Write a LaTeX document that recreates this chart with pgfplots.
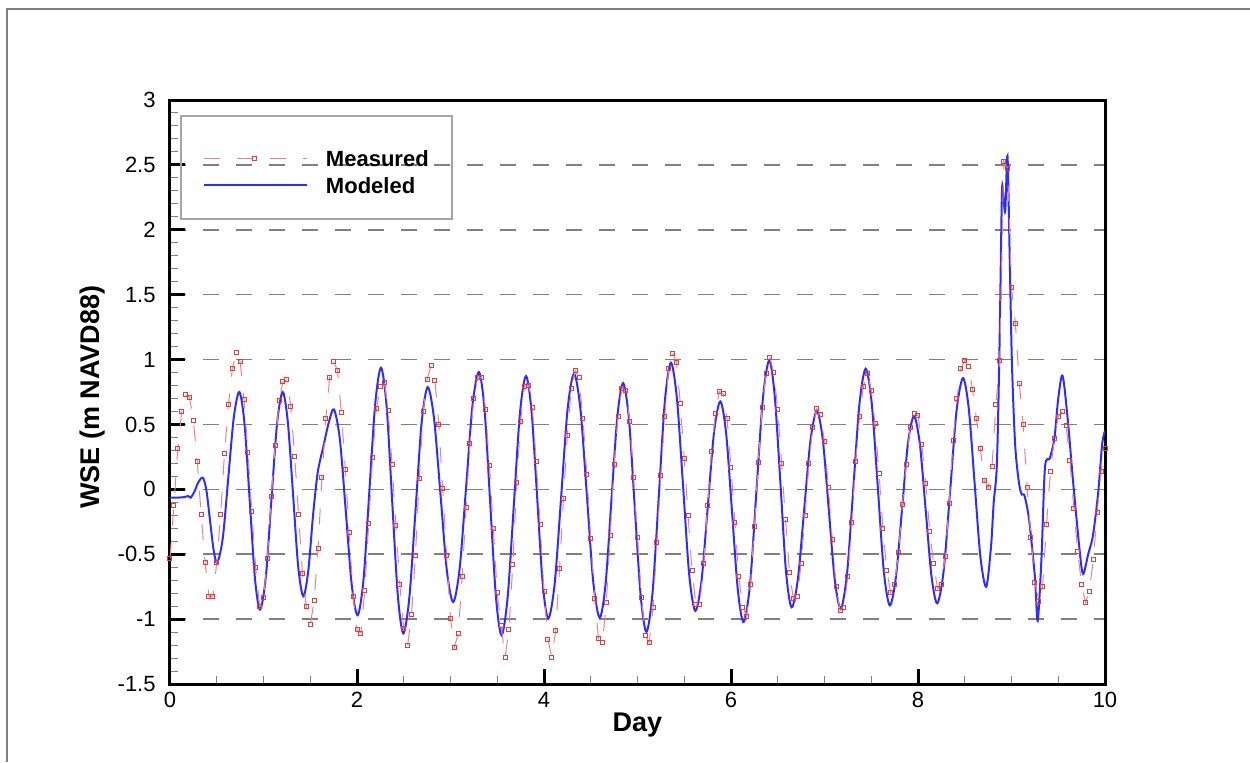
\documentclass[border=0pt]{standalone}
\usepackage{fontspec}
\setmainfont{Liberation Sans}
\usepackage{pgfplots}
\usepackage{pgfplotstable}
\pgfplotsset{compat=1.18}

\definecolor{measline}{RGB}{238,130,130}
\definecolor{measmark}{RGB}{228,60,60}
\definecolor{modblue}{RGB}{45,45,255}
\definecolor{framegray}{RGB}{128,128,128}
\definecolor{legendgray}{RGB}{165,165,165}

% legend sample for the gauge series: dashed line with one square in the middle
\pgfplotsset{
  measured legend/.style={
    legend image code/.code={
      \draw[measline, line width=0.5pt, dash pattern=on 8pt off 8.5pt] (0pt,0pt) -- (51.5pt,0pt);
      \draw[##1] plot coordinates {(25.5pt,0pt)};
    }
  }
}

% Hourly water surface elevation at the gauge (hour since start, m NAVD88)
\pgfplotstableread{
h wse
0 -0.534
1 -0.123
2 0.313
3 0.603
4 0.729
5 0.711
6 0.532
7 0.216
8 -0.195
9 -0.560
10 -0.824
11 -0.824
12 -0.565
13 -0.193
14 0.280
15 0.652
16 0.930
17 1.055
18 0.986
19 0.693
20 0.285
21 -0.169
22 -0.603
23 -0.899
24 -0.837
25 -0.534
26 -0.054
27 0.334
28 0.681
29 0.832
30 0.845
31 0.639
32 0.254
33 -0.193
34 -0.650
35 -0.901
36 -1.043
37 -0.860
38 -0.452
39 0.090
40 0.544
41 0.865
42 0.986
43 0.917
44 0.593
45 0.154
46 -0.334
47 -0.822
48 -1.081
49 -1.107
50 -0.778
51 -0.265
52 0.244
53 0.621
54 0.794
55 0.827
56 0.609
57 0.190
58 -0.277
59 -0.734
60 -1.073
61 -1.202
62 -0.966
63 -0.508
64 0.087
65 0.603
66 0.847
67 0.953
68 0.840
69 0.501
70 0.005
71 -0.508
72 -0.996
73 -1.215
74 -1.112
75 -0.668
76 -0.141
77 0.357
78 0.698
79 0.865
80 0.860
81 0.616
82 0.185
83 -0.303
84 -0.796
85 -1.050
86 -1.297
87 -1.079
88 -0.580
89 0.056
90 0.519
91 0.794
92 0.801
93 0.634
94 0.216
95 -0.270
96 -0.791
97 -1.158
98 -1.292
99 -1.086
100 -0.611
101 -0.072
102 0.413
103 0.776
104 0.917
105 0.858
106 0.544
107 0.116
108 -0.380
109 -0.842
110 -1.150
111 -1.181
112 -0.873
113 -0.354
114 0.190
115 0.565
116 0.776
117 0.758
118 0.526
119 0.095
120 -0.372
121 -0.835
122 -1.125
123 -1.181
124 -0.914
125 -0.406
126 0.108
127 0.565
128 0.930
129 1.050
130 0.981
131 0.660
132 0.241
133 -0.205
134 -0.629
135 -0.886
136 -0.886
137 -0.573
138 -0.128
139 0.295
140 0.583
141 0.755
142 0.737
143 0.544
144 0.167
145 -0.252
146 -0.675
147 -0.907
148 -0.978
149 -0.732
150 -0.290
151 0.205
152 0.634
153 0.896
154 1.014
155 0.899
156 0.616
157 0.198
158 -0.234
159 -0.637
160 -0.842
161 -0.829
162 -0.573
163 -0.200
164 0.198
165 0.480
166 0.621
167 0.578
168 0.365
169 0.018
170 -0.388
171 -0.752
172 -0.935
173 -0.912
174 -0.670
175 -0.259
176 0.211
177 0.562
178 0.794
179 0.896
180 0.763
181 0.506
182 0.121
183 -0.303
184 -0.629
185 -0.796
186 -0.734
187 -0.483
188 -0.116
189 0.190
190 0.480
191 0.583
192 0.570
193 0.344
194 0.044
195 -0.321
196 -0.573
197 -0.761
198 -0.734
199 -0.514
200 -0.110
201 0.378
202 0.699
203 0.930
204 0.994
205 0.950
206 0.767
207 0.543
208 0.316
209 0.071
210 0.012
211 0.177
212 0.655
213 0.994
214 2.528
215 2.475
216 1.555
217 1.280
218 0.817
219 0.499
220 0.015
221 -0.372
222 -0.717
223 -0.864
224 -0.746
225 -0.268
226 0.139
227 0.392
228 0.563
229 0.596
230 0.493
231 0.221
232 -0.150
233 -0.481
234 -0.737
235 -0.870
236 -0.785
237 -0.540
238 -0.177
239 0.139
240 0.316
}\measured

% Simulated water surface elevation (day, m NAVD88)
\pgfplotstableread{
day wse
0 -0.064
0.05 -0.064
0.10 -0.063
0.15 -0.060
0.196 -0.052
0.221 -0.064
0.26 -0.020
0.30 0.050
0.35 0.090
0.389 -0.006
0.428 -0.238
0.467 -0.469
0.506 -0.565
0.565 -0.373
0.624 0.093
0.683 0.558
0.742 0.750
0.797 0.505
0.853 -0.089
0.908 -0.682
0.963 -0.927
1.024 -0.682
1.084 -0.089
1.145 0.505
1.205 0.750
1.260 0.520
1.316 -0.037
1.371 -0.594
1.426 -0.824
1.48 -0.62
1.53 -0.20
1.58 0.13
1.64 0.33
1.70 0.52
1.754 0.616
1.817 0.384
1.881 -0.177
1.944 -0.738
2.007 -0.970
2.070 -0.692
2.132 -0.017
2.195 0.659
2.257 0.937
2.317 0.638
2.376 -0.087
2.436 -0.811
2.495 -1.110
2.560 -0.833
2.626 -0.161
2.691 0.511
2.756 0.788
2.824 0.546
2.893 -0.040
2.961 -0.626
3.029 -0.868
3.098 -0.609
3.167 0.018
3.235 0.645
3.304 0.904
3.365 0.608
3.425 -0.111
3.486 -0.829
3.546 -1.125
3.611 -0.833
3.677 -0.126
3.742 0.581
3.807 0.873
3.867 0.600
3.927 -0.062
3.986 -0.723
4.046 -0.996
4.115 -0.720
4.184 -0.053
4.252 0.615
4.321 0.891
4.390 0.616
4.459 -0.049
4.527 -0.715
4.596 -0.989
4.659 -0.725
4.721 -0.085
4.784 0.555
4.846 0.819
4.909 0.539
4.971 -0.140
5.034 -0.819
5.096 -1.099
5.161 -0.796
5.227 -0.062
5.292 0.673
5.357 0.976
5.422 0.697
5.488 0.020
5.553 -0.658
5.618 -0.937
5.685 -0.701
5.752 -0.130
5.819 0.442
5.886 0.678
5.948 0.430
6.011 -0.172
6.073 -0.774
6.135 -1.022
6.204 -0.728
6.272 -0.014
6.341 0.700
6.409 0.994
6.468 0.716
6.529 0.043
6.588 -0.631
6.648 -0.909
6.716 -0.688
6.783 -0.153
6.851 0.382
6.918 0.603
6.982 0.381
7.046 -0.158
7.110 -0.697
7.174 -0.919
7.241 -0.649
7.308 0.006
7.374 0.660
7.441 0.930
7.505 0.664
7.570 0.018
7.634 -0.628
7.698 -0.894
7.763 -0.681
7.828 -0.165
7.892 0.351
7.957 0.564
8.019 0.353
8.082 -0.157
8.144 -0.667
8.206 -0.878
8.275 -0.625
8.344 -0.011
8.412 0.604
8.481 0.857
8.543 0.622
8.605 0.053
8.667 -0.516
8.729 -0.751
8.78 -0.45
8.81 -0.10
8.844 0.20
8.872 1.11
8.897 2.26
8.910 2.28
8.933 2.145
8.957 2.570
8.980 1.820
9.004 0.990
9.039 0.345
9.080 0.050
9.110 -0.040
9.135 -0.040
9.170 -0.150
9.199 -0.300
9.252 -0.690
9.280 -1.012
9.320 -0.540
9.358 0.168
9.410 0.240
9.460 0.400
9.500 0.700
9.546 0.876
9.600 0.550
9.660 0.050
9.730 -0.480
9.766 -0.652
9.820 -0.500
9.870 -0.360
9.925 -0.040
9.970 0.350
10.0 0.450
}\modeled

\begin{document}
\begin{tikzpicture}
\useasboundingbox (0,0) rectangle (625pt,-381pt);
\draw[framegray, line width=0.75pt] (3.5pt,-381pt) -- (3.5pt,-4.5pt) -- (625pt,-4.5pt);
\begin{axis}[
  at={(85pt,-342pt)}, anchor=south west,
  scale only axis, width=467.5pt, height=292pt,
  xmin=0, xmax=10, ymin=-1.5, ymax=3,
  xtick={0,2,4,6,8,10},
  ytick={-1.5,-1,-0.5,0,0.5,1,1.5,2,2.5,3},
  minor x tick num=3, minor y tick num=4,
  tick pos=left, tick align=inside,
  major tick length=7.5pt, minor tick length=4pt,
  every major tick/.append style={black, line width=1.5pt},
  every minor tick/.append style={framegray, line width=0.5pt},
  axis line style={black, line width=1.5pt},
  ymajorgrids,
  major grid style={framegray, line width=0.75pt, dash pattern=on 8pt off 8.5pt},
  tick label style={font=\fontsize{11}{13}\selectfont},
  /pgf/number format/assume math mode=true,
  yticklabel style={anchor=east, inner sep=0pt, xshift=-7pt},
  xticklabel style={anchor=north, inner sep=0pt, yshift=-4pt},
  xlabel={Day}, ylabel={WSE (m NAVD88)},
  every axis x label/.style={at={(axis description cs:0.5,-0.0805)}, anchor=base,
    font=\bfseries\fontsize{13.5}{16}\selectfont},
  every axis y label/.style={at={(axis description cs:-0.0749,0.4914)}, rotate=90, anchor=base,
    font=\bfseries\fontsize{13.5}{16}\selectfont},
  legend style={at={(rel axis cs:0.0353,0.9144)}, anchor=north west,
    draw=none, fill=none, inner sep=0pt, outer sep=0pt,
    row sep=5.65pt, column sep=9pt,
    font=\bfseries\fontsize{11}{13}\selectfont,
    nodes={inner sep=0pt, text height=8pt, text depth=0pt}},
  legend cell align=left,
  reverse legend,
  legend image code/.code={
    \draw[#1] (0pt,0pt) -- (51.5pt,0pt);
  },
]
\draw[legendgray, line width=0.6pt] (rel axis cs:0.01176,0.79623) rectangle (rel axis cs:0.3016,0.9726);
% simulated series
\addplot[modblue, line width=1pt, smooth, mark=none]
  table[x=day, y=wse] {\modeled};
\addlegendentry{Modeled}
% gauge series: dashed connecting line, then the square markers on top
\addplot[measline, line width=0.5pt, dash pattern=on 8pt off 8.5pt, mark=none, forget plot]
  table[x expr=\thisrow{h}/24, y=wse] {\measured};
\addplot[only marks, mark=square, mark size=1pt,
  mark options={draw=measmark, fill=none, line width=0.5pt}, measured legend]
  table[x expr=\thisrow{h}/24, y=wse] {\measured};
\addlegendentry{Measured}
\end{axis}
\end{tikzpicture}
\end{document}
